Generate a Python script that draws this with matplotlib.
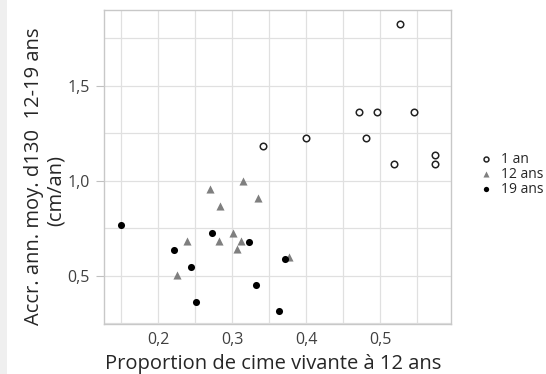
import matplotlib
matplotlib.use("Agg")
import matplotlib.pyplot as plt
from matplotlib.ticker import MultipleLocator, FuncFormatter
from matplotlib.patches import Rectangle

# Data
x_1an = [0.342, 0.527, 0.471, 0.495, 0.545, 0.400, 0.481, 0.519, 0.574, 0.574]
y_1an = [1.180, 1.823, 1.362, 1.362, 1.362, 1.224, 1.224, 1.086, 1.135, 1.086]

x_12ans = [0.315, 0.270, 0.335, 0.2835, 0.3007, 0.2384, 0.282, 0.312, 0.3065, 0.376, 0.2257]
y_12ans = [1.000, 0.956, 0.910, 0.866, 0.727, 0.683, 0.683, 0.683, 0.640, 0.596, 0.503]

x_19ans = [0.149, 0.273, 0.3227, 0.2212, 0.3714, 0.2438, 0.3318, 0.251, 0.363]
y_19ans = [0.767, 0.725, 0.677, 0.633, 0.588, 0.545, 0.450, 0.363, 0.313]

series_labels = ["1 an", "12 ans", "19 ans"]
x_label = "Proportion de cime vivante à 12 ans"
y_label_1 = "Accr. ann. moy. d130  12-19 ans"
y_label_2 = "(cm/an)"

plt.rcParams['font.family'] = ['Open Sans', 'DejaVu Sans']

fig = plt.figure(figsize=(5.46, 3.74), dpi=100)
fig.patch.set_facecolor('white')
fig.patches.append(Rectangle((0, 0), 7/546, 1, transform=fig.transFigure,
                             facecolor='#efefef', edgecolor='none', zorder=0))

W, H = 546, 374
left, right, top, bottom = 104, 451, 10, 324
ax = fig.add_axes([left/W, 1 - bottom/H, (right-left)/W, (bottom-top)/H])

ax.scatter(x_1an, y_1an, s=22, facecolors='white', edgecolors='#222222',
           linewidths=1.1, marker='o', label=series_labels[0], zorder=3)
ax.scatter(x_12ans, y_12ans, s=34, color='#7f7f7f', marker='^',
           linewidths=0, label=series_labels[1], zorder=3)
ax.scatter(x_19ans, y_19ans, s=26, color='black', marker='o',
           linewidths=0, label=series_labels[2], zorder=4)

ax.set_xlim(0.1265, 0.5957)
ax.set_ylim(0.246, 1.897)

ax.xaxis.set_major_locator(MultipleLocator(0.1))
ax.xaxis.set_minor_locator(MultipleLocator(0.05))
ax.yaxis.set_major_locator(MultipleLocator(0.5))
ax.yaxis.set_minor_locator(MultipleLocator(0.25))
fmt = FuncFormatter(lambda v, p: f"{v:.1f}".replace('.', ','))
ax.xaxis.set_major_formatter(fmt)
ax.yaxis.set_major_formatter(fmt)

ax.grid(True, which='both', color='#e0e0e0', linewidth=0.9, zorder=0)
ax.set_axisbelow(True)
for s in ax.spines.values():
    s.set_color('#c8c8c8')
    s.set_linewidth(1.0)

ax.tick_params(axis='both', which='minor', length=0)
ax.tick_params(axis='y', which='major', length=6, color='#c0c0c0',
               labelsize=11.5, labelcolor='#404040', pad=4)
ax.tick_params(axis='x', which='major', length=0,
               labelsize=11.5, labelcolor='#404040', pad=6)

fig.text(273/W, 1 - 364/H, x_label, ha='center', va='center',
         fontsize=14.5, color='#262626')
fig.text(34/W, 1 - 176/H, y_label_1, ha='center', va='center', rotation=90,
         fontsize=14.5, color='#262626')
fig.text(56/W, 1 - 190/H, y_label_2, ha='center', va='center', rotation=90,
         fontsize=14.5, color='#262626')

leg = fig.legend(loc='upper left', bbox_to_anchor=(472/W, 1 - 146/H),
                 frameon=False, fontsize=10, handletextpad=0.5,
                 labelspacing=0.0, borderaxespad=0, handlelength=1.2,
                 markerscale=0.75, labelcolor='#262626')

fig.savefig("out.png", dpi=100)
